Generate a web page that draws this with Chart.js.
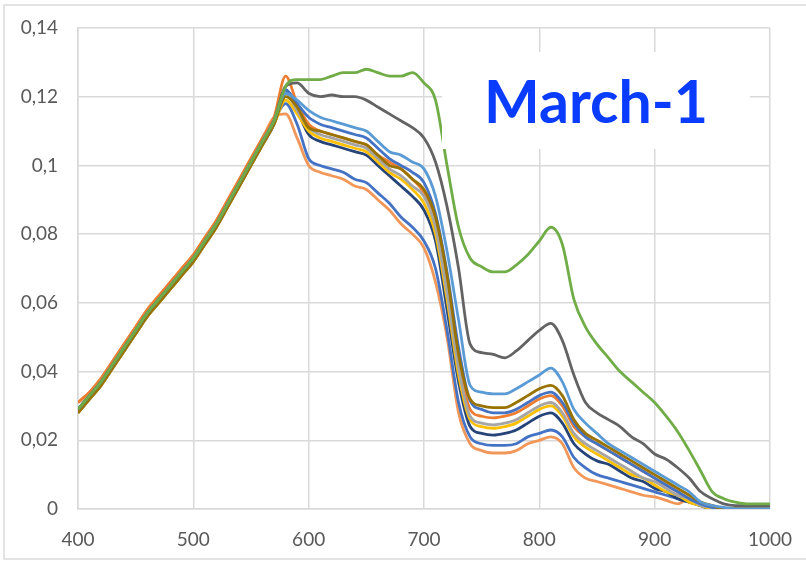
<!DOCTYPE html>
<html>
<head>
<meta charset="utf-8">
<script src="https://cdn.jsdelivr.net/npm/chart.js@4.4.1/dist/chart.umd.min.js"></script>
<style>
  html, body { margin: 0; padding: 0; background: #fff; overflow: hidden; }
  #wrap { position: relative; width: 806px; height: 565px; overflow: hidden; }
  #spectra { position: absolute; left: 0; top: 0; }
  #frame { position: absolute; left: 3px; top: 4px; width: 810px; height: 556px; border: 2px solid #E3E3E3; box-sizing: border-box; }
  #titleBox { position: absolute; left: 442px; top: 52px; width: 308px; height: 97px; background: #fff;
    display: flex; align-items: center; justify-content: center;
    font-family: Lato, sans-serif; font-weight: bold; font-size: 59px; color: #0A3CFF; }
</style>
</head>
<body>
<div id="wrap">
  <div id="frame"></div>
  <canvas id="spectra"></canvas>
  <div id="titleBox">March-1</div>
</div>
<script>
// wavelength (nm)
const wavelengths = [400,410,420,430,440,450,460,470,480,490,500,510,520,530,540,550,560,570,
  580,590,600,610,620,630,640,650,660,670,680,690,700,710,720,730,740,750,760,770,780,790,
  800,810,820,830,840,850,860,870,880,890,900,910,920,930,940,950,960,970,980,990,1000];

const yTickLabels = ['0', '0,02', '0,04', '0,06', '0,08', '0,1', '0,12', '0,14'];
const xTickLabels = ['400', '500', '600', '700', '800', '900', '1000'];

const green = [0.029,0.033,0.037,0.042,0.047,0.052,0.057,0.061,0.065,0.069,0.073,0.078,0.083,0.089,0.095,0.101,0.107,0.113,
  0.123,0.125,0.125,0.125,0.126,0.127,0.127,0.128,0.127,0.126,0.126,0.127,0.124,0.119,0.100,0.082,0.073,0.0705,0.069,0.069,0.071,0.074,
  0.078,0.082,0.077,0.061,0.053,0.048,0.044,0.040,0.037,0.034,0.031,0.027,0.0225,0.017,0.011,0.005,0.003,0.002,0.0015,0.0015,0.0015];
const darkGray = [0.029,0.033,0.037,0.042,0.047,0.052,0.057,0.061,0.065,0.069,0.073,0.078,0.083,0.089,0.095,0.101,0.107,0.113,
  0.123,0.124,0.121,0.120,0.1205,0.120,0.120,0.119,0.117,0.115,0.113,0.111,0.108,0.101,0.088,0.070,0.048,0.0455,0.045,0.044,0.046,0.049,
  0.052,0.054,0.049,0.039,0.031,0.028,0.026,0.024,0.021,0.019,0.016,0.0145,0.012,0.009,0.005,0.003,0.0015,0.001,0.001,0.001,0.001];
const lightBlue = [0.029,0.033,0.037,0.042,0.047,0.052,0.057,0.061,0.065,0.069,0.073,0.078,0.083,0.089,0.095,0.101,0.107,0.113,
  0.121,0.119,0.116,0.114,0.113,0.112,0.111,0.110,0.107,0.104,0.103,0.101,0.099,0.091,0.075,0.055,0.036,0.034,0.0335,0.0335,0.035,0.037,
  0.039,0.041,0.037,0.029,0.025,0.022,0.019,0.017,0.015,0.013,0.011,0.009,0.007,0.005,0.002,0.001,0.0005,0,0,0,0];
const olive = [0.028,0.032,0.036,0.041,0.046,0.051,0.056,0.060,0.064,0.068,0.072,0.077,0.082,0.088,0.094,0.100,0.106,0.112,
  0.120,0.117,0.111,0.110,0.109,0.108,0.107,0.106,0.103,0.100,0.099,0.096,0.093,0.085,0.068,0.045,0.032,0.030,0.0295,0.0295,0.031,0.033,
  0.035,0.036,0.033,0.026,0.022,0.020,0.018,0.016,0.014,0.012,0.010,0.008,0.006,0.004,0.002,0.001,0,0,0,0,0];
const blueMid = [0.029,0.033,0.037,0.042,0.047,0.052,0.057,0.061,0.065,0.069,0.073,0.078,0.083,0.089,0.095,0.101,0.107,0.113,
  0.122,0.118,0.114,0.112,0.111,0.110,0.109,0.108,0.105,0.102,0.100,0.098,0.095,0.086,0.069,0.047,0.0315,0.029,0.028,0.028,0.029,0.031,
  0.033,0.034,0.031,0.025,0.021,0.019,0.017,0.015,0.013,0.011,0.009,0.007,0.005,0.003,0.0015,0.0005,0,0,0,0,0];
const orange = [0.031,0.034,0.038,0.043,0.048,0.053,0.058,0.062,0.066,0.070,0.074,0.079,0.084,0.090,0.096,0.102,0.108,0.114,
  0.126,0.118,0.112,0.110,0.109,0.108,0.107,0.106,0.103,0.101,0.099,0.096,0.092,0.083,0.065,0.043,0.029,0.027,0.0265,0.027,0.028,0.030,
  0.032,0.033,0.030,0.024,0.021,0.019,0.017,0.015,0.013,0.011,0.009,0.007,0.005,0.003,0.0015,0.001,0,0,0,0,0];
const gray = [0.029,0.033,0.037,0.042,0.047,0.052,0.057,0.061,0.065,0.069,0.073,0.078,0.083,0.089,0.095,0.101,0.107,0.113,
  0.121,0.116,0.111,0.109,0.108,0.107,0.106,0.105,0.102,0.099,0.097,0.094,0.091,0.082,0.063,0.041,0.027,0.025,0.0245,0.025,0.026,0.028,
  0.030,0.031,0.028,0.022,0.019,0.017,0.015,0.013,0.011,0.009,0.008,0.006,0.004,0.003,0.001,0.0005,0,0,0,0,0];
const yellow = [0.028,0.032,0.036,0.041,0.046,0.051,0.056,0.060,0.064,0.068,0.072,0.077,0.082,0.088,0.094,0.100,0.106,0.112,
  0.119,0.115,0.110,0.108,0.107,0.106,0.105,0.104,0.101,0.098,0.096,0.093,0.089,0.080,0.061,0.039,0.026,0.024,0.0235,0.024,0.025,0.027,
  0.029,0.030,0.027,0.021,0.018,0.016,0.014,0.012,0.010,0.009,0.007,0.005,0.004,0.002,0.001,0,0,0,0,0,0];
const navy = [0.028,0.032,0.036,0.041,0.046,0.051,0.056,0.060,0.064,0.068,0.072,0.077,0.082,0.088,0.094,0.100,0.106,0.112,
  0.122,0.116,0.109,0.107,0.106,0.105,0.104,0.103,0.100,0.097,0.094,0.091,0.087,0.078,0.058,0.037,0.024,0.022,0.0215,0.022,0.023,0.025,
  0.027,0.028,0.025,0.019,0.016,0.014,0.013,0.011,0.009,0.008,0.006,0.005,0.003,0.002,0.001,0,0,0,0,0,0];
const blueLow = [0.029,0.033,0.037,0.042,0.047,0.052,0.057,0.061,0.065,0.069,0.073,0.078,0.083,0.089,0.095,0.101,0.107,0.113,
  0.118,0.112,0.102,0.100,0.099,0.098,0.096,0.095,0.092,0.089,0.085,0.082,0.078,0.070,0.052,0.031,0.021,0.019,0.0185,0.0185,0.019,0.021,
  0.022,0.023,0.021,0.015,0.012,0.010,0.009,0.008,0.007,0.006,0.005,0.004,0.003,0.002,0.001,0,0,0,0,0,0];
const orangeLow = [0.031,0.034,0.038,0.043,0.048,0.053,0.058,0.062,0.066,0.070,0.074,0.079,0.084,0.090,0.096,0.102,0.108,0.114,
  0.115,0.108,0.100,0.098,0.097,0.096,0.094,0.093,0.090,0.087,0.083,0.080,0.076,0.066,0.050,0.028,0.019,0.017,0.0163,0.0163,0.017,0.019,
  0.020,0.021,0.019,0.012,0.009,0.008,0.007,0.006,0.005,0.004,0.0035,0.0025,0.0015,0.003,0.001,0,0,0,0,0,0];

const seriesList = [
  { data: green, color: '#70AD47' },
  { data: darkGray, color: '#636363' },
  { data: lightBlue, color: '#5B9BD5' },
  { data: olive, color: '#997300' },
  { data: blueMid, color: '#4472C4' },
  { data: gray, color: '#A5A5A5' },
  { data: yellow, color: '#FFC000' },
  { data: orange, color: '#ED7D31' },
  { data: navy, color: '#264478' },
  { data: blueLow, color: '#4472C4' },
  { data: orangeLow, color: '#F1975A' },
];

// canvas is a bit wider than the window so the plot can reach x=771
const canvas = document.getElementById('spectra');
canvas.width = 811; canvas.height = 565;

new Chart(canvas.getContext('2d'), {
  type: 'line',
  data: {
    datasets: seriesList.map(s => ({
      data: wavelengths.map((w, i) => ({ x: w, y: s.data[i] })),
      borderColor: s.color, borderWidth: 2.8, pointRadius: 0,
      cubicInterpolationMode: 'monotone', fill: false
    }))
  },
  options: {
    responsive: false, animation: false, devicePixelRatio: 1,
    layout: { padding: { left: 0, right: 0, top: 28, bottom: 0 } },
    plugins: { legend: { display: false }, tooltip: { enabled: false } },
    scales: {
      x: {
        type: 'linear', min: 400, max: 1000,
        afterBuildTicks: s => { s.ticks = xTickLabels.map(v => ({ value: Number(v) })); },
        afterFit: s => { s.height = 56; },
        grid: { color: '#D9D9D9', lineWidth: 1.5, drawTicks: false },
        border: { color: '#D9D9D9', width: 1.5 },
        ticks: { padding: 19, color: '#595959', font: { family: 'Lato', size: 19 }, callback: (v, i) => xTickLabels[i] }
      },
      y: {
        min: 0, max: 0.14,
        afterBuildTicks: s => { s.ticks = yTickLabels.map((t, i) => ({ value: i * 0.02 })); },
        afterFit: s => { s.width = 78; s.paddingTop = 0; s.paddingBottom = 0; },
        grid: { color: '#D9D9D9', lineWidth: 1.5, drawTicks: false },
        border: { color: '#D9D9D9', width: 1.5 },
        ticks: { padding: 20, color: '#595959', font: { family: 'Lato', size: 19 }, callback: (v, i) => yTickLabels[i] }
      }
    }
  }
});
</script>
</body>
</html>
